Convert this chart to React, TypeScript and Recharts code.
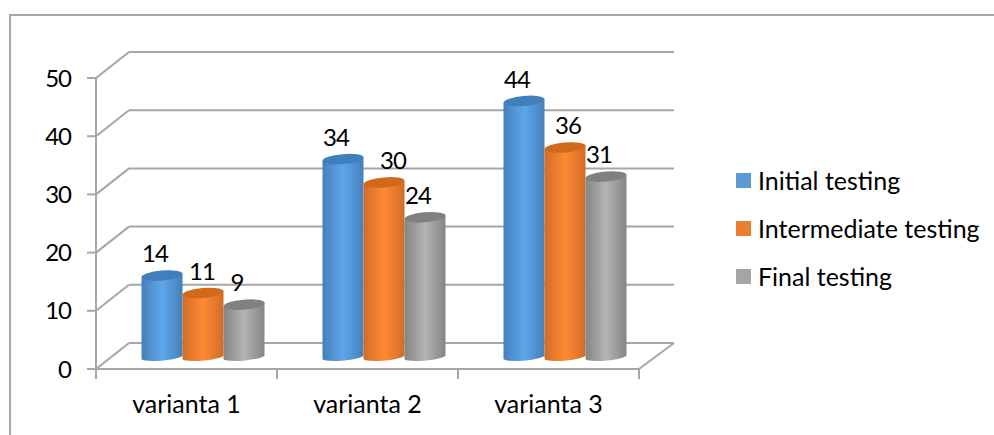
import { BarChart, Bar, XAxis, YAxis, CartesianGrid, Legend, LabelList } from 'recharts';

const categories = ['varianta 1', 'varianta 2', 'varianta 3'];
const initialTesting = [14, 34, 44];
const intermediateTesting = [11, 30, 36];
const finalTesting = [9, 24, 31];
const yTicks = [0, 10, 20, 30, 40, 50];

const data = categories.map((name, i) => ({
  name,
  initial: initialTesting[i],
  intermediate: intermediateTesting[i],
  final: finalTesting[i],
}));

const FONT = 'Lato, sans-serif';
const TEXT_SIZE = 25;
const DIGIT_SIZE = 24;
const LINE = '#a6a6a6';
// fake 3d: how far the back wall sits from the front plane
const DEPTH_X = 33;
const DEPTH_Y = 26;
const BAR_SHIFT_X = 16.5;
const BAR_SHIFT_Y = 12;
const BAND = 181;

const WIDTH = 994;
const HEIGHT = 435;

const TILT = 2;
const RY = 5;
const BOTTOM_RY = 3.5;

function Cylinder(props: any) {
  const { x, y, width, height, dataKey, top } = props;
  const left = x + BAR_SHIFT_X;
  const right = left + width;
  const topY = y - BAR_SHIFT_Y;
  const botY = y + height - BAR_SHIFT_Y;
  const rx = width / 2;
  const body =
    `M${left},${topY + TILT} L${left},${botY + TILT} ` +
    `A${rx},${BOTTOM_RY} -5 0 0 ${right},${botY - TILT} ` +
    `L${right},${topY - TILT} Z`;
  return (
    <g>
      <path d={body} fill={`url(#cyl-${dataKey})`} />
      <ellipse
        cx={left + rx}
        cy={topY}
        rx={rx}
        ry={RY}
        fill={top}
        transform={`rotate(-5 ${left + rx} ${topY})`}
      />
    </g>
  );
}

function BackWallLine(props: any) {
  const { x1, y1, x2, y2 } = props;
  const isFloor = y1 > 350;
  return (
    <g stroke={LINE} strokeWidth={2} fill="none">
      <line x1={x1 + DEPTH_X} y1={y1 - DEPTH_Y} x2={x2 + DEPTH_X + 2} y2={y2 - DEPTH_Y} />
      <line x1={x1} y1={y1} x2={x1 + DEPTH_X} y2={y1 - DEPTH_Y} />
      {isFloor && <line x1={x2} y1={y2} x2={x2 + DEPTH_X + 2} y2={y2 - DEPTH_Y} />}
    </g>
  );
}

function CategoryTick(props: any) {
  const { x, y, payload, index } = props;
  return (
    <g>
      <line x1={x - BAND / 2} y1={y - 8} x2={x - BAND / 2} y2={y + 2} stroke={LINE} strokeWidth={2} />
      {index === categories.length - 1 && (
        <line x1={x + BAND / 2} y1={y - 8} x2={x + BAND / 2} y2={y + 2} stroke={LINE} strokeWidth={2} />
      )}
      <text x={x} y={y + 36} textAnchor="middle" fontFamily={FONT} fontSize={TEXT_SIZE} fill="#000">
        {payload.value}
      </text>
    </g>
  );
}

const makeLabel = (nudges: number[]) => (props: any) => {
  const { x, y, width, value, index } = props;
  return (
    <text
      x={x + width / 2 + BAR_SHIFT_X + nudges[index]}
      y={y - BAR_SHIFT_Y - 22}
      dy="0.36em"
      textAnchor="middle"
      fontFamily={FONT}
      fontSize={DIGIT_SIZE}
      letterSpacing={-1}
      fill="#000"
    >
      {value}
    </text>
  );
};

function LegendBox(props: any) {
  return (
    <div style={{ fontFamily: FONT, fontSize: TEXT_SIZE, color: '#000' }}>
      {props.payload.map((item: any) => (
        <div key={item.value} style={{ display: 'flex', alignItems: 'center', height: 48, whiteSpace: 'nowrap' }}>
          <span style={{ width: 15, height: 15, background: item.color, marginRight: 7 }} />
          {item.value}
        </div>
      ))}
    </div>
  );
}

function stops(edge: string, mid: string) {
  return (
    <>
      <stop offset="0%" stopColor={edge} />
      <stop offset="50%" stopColor={mid} />
      <stop offset="100%" stopColor={edge} />
    </>
  );
}

export default function App() {
  return (
    <div style={{ position: 'absolute', left: 0, top: 0, width: WIDTH, height: HEIGHT, background: '#fff' }}>
      <div
        style={{
          position: 'absolute',
          left: 9,
          top: 14,
          right: 0,
          bottom: 0,
          borderLeft: `2px solid ${LINE}`,
          borderTop: `2px solid ${LINE}`,
        }}
      />
      <BarChart
        width={WIDTH}
        height={HEIGHT}
        data={data}
        barSize={41}
        barGap={0}
        margin={{ top: 78, right: 97, bottom: 30, left: 0 }}
        style={{ position: 'absolute', left: 0, top: 0 }}
      >
        <defs>
          <linearGradient id="cyl-initial" x1="0" x2="1" y1="0" y2="0">
            {stops('#4580ba', '#5fa6ea')}
          </linearGradient>
          <linearGradient id="cyl-intermediate" x1="0" x2="1" y1="0" y2="0">
            {stops('#d06c28', '#ff8a33')}
          </linearGradient>
          <linearGradient id="cyl-final" x1="0" x2="1" y1="0" y2="0">
            {stops('#858585', '#b4b4b4')}
          </linearGradient>
        </defs>
        <CartesianGrid vertical={false} horizontal={BackWallLine} />
        <XAxis
          dataKey="name"
          height={36}
          interval={0}
          tickLine={false}
          axisLine={{ stroke: LINE, strokeWidth: 2 }}
          tick={CategoryTick}
        />
        <YAxis
          width={96}
          domain={[0, 50]}
          ticks={yTicks}
          tickSize={9}
          tickMargin={16}
          tickLine={{ stroke: LINE, strokeWidth: 2 }}
          axisLine={{ stroke: LINE, strokeWidth: 2 }}
          tick={{ fill: '#000', fontFamily: FONT, fontSize: DIGIT_SIZE, letterSpacing: -1 }}
        />
        <Legend
          layout="vertical"
          align="right"
          verticalAlign="top"
          itemSorter={null}
          content={LegendBox}
          wrapperStyle={{ left: 736, top: 156, width: 258 }}
        />
        <Bar
          dataKey="initial"
          name="Initial testing"
          fill="#5b9bd5"
          isAnimationActive={false}
          shape={(p: any) => <Cylinder {...p} dataKey="initial" top="#3f7fbc" />}
        >
          <LabelList dataKey="initial" content={makeLabel([-7, -7, -7])} />
        </Bar>
        <Bar
          dataKey="intermediate"
          name="Intermediate testing"
          fill="#ed7d31"
          isAnimationActive={false}
          shape={(p: any) => <Cylinder {...p} dataKey="intermediate" top="#d2691a" />}
        >
          <LabelList dataKey="intermediate" content={makeLabel([-1, 9, 3])} />
        </Bar>
        <Bar
          dataKey="final"
          name="Final testing"
          fill="#a5a5a5"
          isAnimationActive={false}
          shape={(p: any) => <Cylinder {...p} dataKey="final" top="#808080" />}
        >
          <LabelList dataKey="final" content={makeLabel([-7, -7, -7])} />
        </Bar>
      </BarChart>
    </div>
  );
}
